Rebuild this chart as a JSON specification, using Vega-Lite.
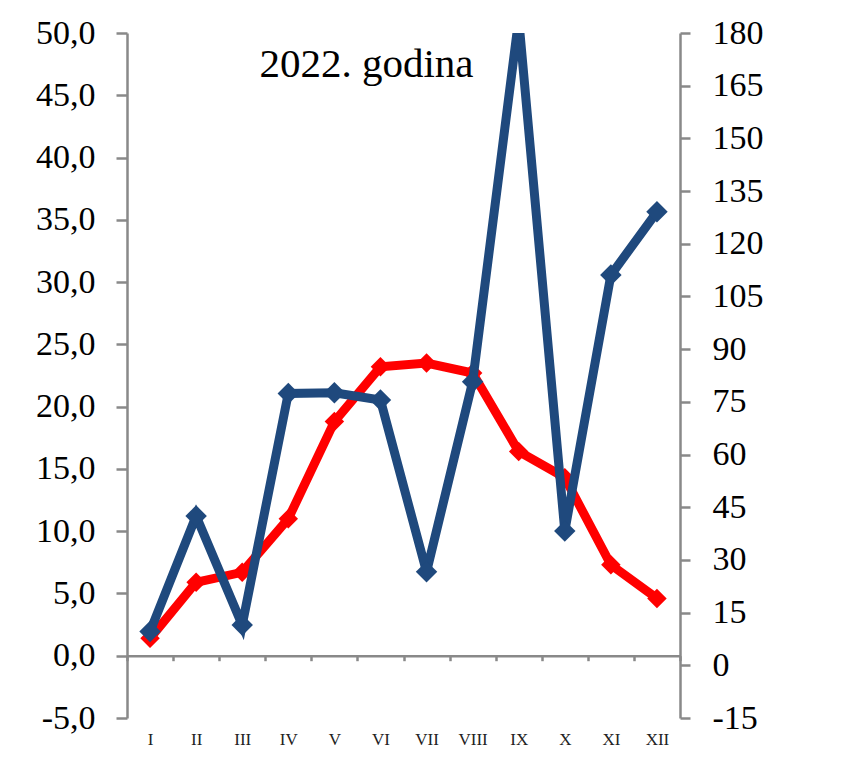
{
  "$schema": "https://vega.github.io/schema/vega-lite/v6.json",
  "width": 553,
  "height": 685,
  "autosize": {"type": "none"},
  "padding": {"left": 127, "top": 33, "right": 169, "bottom": 58},
  "background": "white",
  "config": {
    "view": {"stroke": null},
    "font": "Liberation Serif",
    "axis": {"grid": false, "domainColor": "#898989", "domainWidth": 2.5, "tickColor": "#898989", "tickWidth": 2.5, "labelFont": "Liberation Serif", "labelColor": "#000000"}
  },
  "title": {
    "text": "2022. godina",
    "font": "Liberation Serif",
    "fontSize": 41,
    "fontWeight": "normal",
    "color": "#000000",
    "anchor": "middle",
    "frame": "group",
    "baseline": "alphabetic",
    "offset": 0,
    "dx": -37,
    "dy": 102
  },
  "data": {
    "values": [
      {"month": "I", "temp": 1.4, "precip": 9.6},
      {"month": "II", "temp": 5.9, "precip": 42.5},
      {"month": "III", "temp": 6.7, "precip": 11.5},
      {"month": "IV", "temp": 11.0, "precip": 77.4},
      {"month": "V", "temp": 18.8, "precip": 77.6},
      {"month": "VI", "temp": 23.2, "precip": 75.5},
      {"month": "VII", "temp": 23.5, "precip": 26.6},
      {"month": "VIII", "temp": 22.7, "precip": 80.7},
      {"month": "IX", "temp": 16.4, "precip": 184},
      {"month": "X", "temp": 14.3, "precip": 38.2},
      {"month": "XI", "temp": 7.3, "precip": 111.1},
      {"month": "XII", "temp": 4.6, "precip": 129.1}
    ]
  },
  "encoding": {
    "x": {
      "field": "month",
      "type": "ordinal",
      "sort": ["I", "II", "III", "IV", "V", "VI", "VII", "VIII", "IX", "X", "XI", "XII"],
      "scale": {"paddingInner": 0, "paddingOuter": 0},
      "axis": {
        "title": null,
        "orient": "bottom",
        "offset": -62.3,
        "tickBand": "extent",
        "tickSize": 5,
        "labelAngle": 0,
        "labelFontSize": 17,
        "labelColor": "#222222",
        "labelBaseline": "alphabetic",
        "labelPadding": 84
      }
    }
  },
  "layer": [
    {
      "encoding": {
        "y": {
          "field": "temp",
          "type": "quantitative",
          "scale": {"domain": [-5, 50], "nice": false, "zero": false},
          "axis": {
            "orient": "left",
            "title": null,
            "values": [-5, 0, 5, 10, 15, 20, 25, 30, 35, 40, 45, 50],
            "labelExpr": "replace(replace(format(datum.value, '.1f'), '.', ','), '\u2212', '-')",
            "labelFontSize": 34,
            "tickSize": 11,
            "labelPadding": 21
          }
        }
      },
      "layer": [
        {"mark": {"type": "line", "color": "#FF0000", "strokeWidth": 9, "clip": true}},
        {"mark": {"type": "point", "shape": "diamond", "filled": true, "opacity": 1, "color": "#FF0000", "size": 380, "clip": true}}
      ]
    },
    {
      "encoding": {
        "y": {
          "field": "precip",
          "type": "quantitative",
          "scale": {"domain": [-15, 180], "nice": false, "zero": false},
          "axis": {
            "orient": "right",
            "title": null,
            "values": [-15, 0, 15, 30, 45, 60, 75, 90, 105, 120, 135, 150, 165, 180],
            "labelExpr": "replace(format(datum.value, 'd'), '\u2212', '-')",
            "labelFontSize": 34,
            "tickSize": 10,
            "labelPadding": 22
          }
        }
      },
      "layer": [
        {"mark": {"type": "line", "color": "#1F497D", "strokeWidth": 9, "clip": true}},
        {"mark": {"type": "point", "shape": "diamond", "filled": true, "opacity": 1, "color": "#1F497D", "size": 460, "clip": true}}
      ]
    }
  ],
  "resolve": {"scale": {"y": "independent"}}
}
